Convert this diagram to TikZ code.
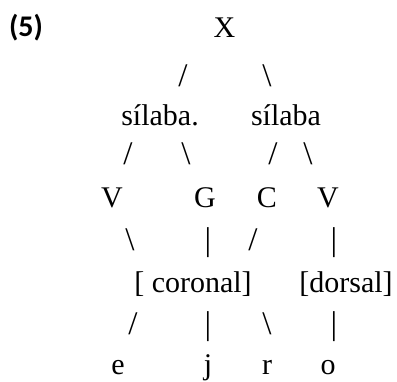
\documentclass[tikz,border=0pt]{standalone}
\usepackage{fontspec}
\setmainfont{Liberation Serif}
\newfontfamily\numfont{Carlito}
\begin{document}
\begin{tikzpicture}[x=1pt,y=1pt,
  lab/.style={inner sep=0pt,anchor=base,font=\fontsize{30}{34}\selectfont},
  stroke/.style={inner sep=0pt,anchor=base,font=\fontsize{33}{36}\selectfont}]
\useasboundingbox (0,0) rectangle (397,-381);
% example number
\node[lab,font=\numfont\bfseries\fontsize{30}{34}\selectfont] (num) at (26,-36) {(5)};
% row 0
\node[lab] (X) at (224.5,-37) {X};
% row 1 strokes
\node[stroke] (s1a) at (183,-86) {/};
\node[stroke] (s1b) at (267,-86) {\textbackslash};
% row 2
\node[lab] (syl1) at (160,-125) {sílaba.};
\node[lab] (syl2) at (286,-125) {sílaba};
% row 3 strokes
\node[stroke] (s2a) at (128,-164) {/};
\node[stroke] (s2b) at (186,-164) {\textbackslash};
\node[stroke] (s2c) at (273,-164) {/};
\node[stroke] (s2d) at (308,-164) {\textbackslash};
% row 4
\node[lab] (V1) at (112,-207) {V};
\node[lab] (G) at (205,-207) {G};
\node[lab] (C) at (267,-207) {C};
\node[lab] (V2) at (328,-207) {V};
% row 5 strokes
\node[stroke] (s3a) at (130,-250) {\textbackslash};
\node[stroke] (s3b) at (208,-250) {|};
\node[stroke] (s3c) at (253,-250) {/};
\node[stroke] (s3d) at (334,-250) {|};
% row 6
\node[lab] (cor) at (193,-292) {[ coronal]};
\node[lab] (dor) at (346,-292) {[dorsal]};
% row 7 strokes
\node[stroke] (s4a) at (133,-334) {/};
\node[stroke] (s4b) at (208,-334) {|};
\node[stroke] (s4c) at (267,-334) {\textbackslash};
\node[stroke] (s4d) at (334,-334) {|};
% row 8
\node[lab] (e) at (118,-374) {e};
\node[lab] (j) at (208,-374) {j};
\node[lab] (r) at (267,-374) {r};
\node[lab] (o) at (328,-374) {o};
\end{tikzpicture}
\end{document}
